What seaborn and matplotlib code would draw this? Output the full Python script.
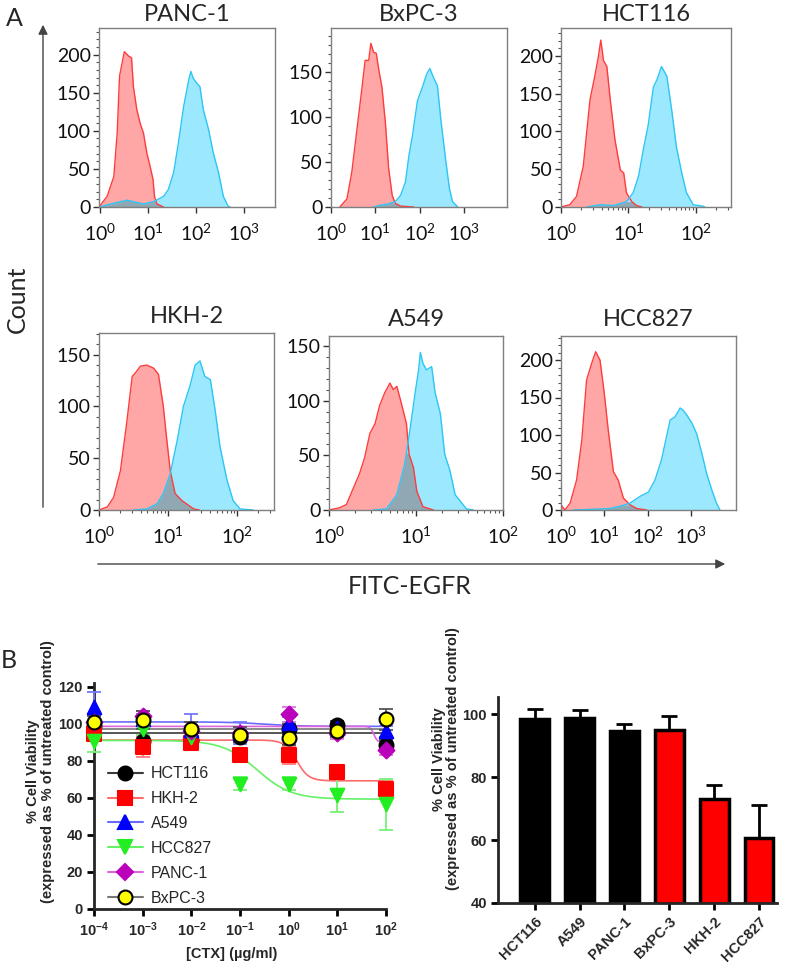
import numpy as np
import matplotlib
matplotlib.use('Agg')
import matplotlib.pyplot as plt
import seaborn as sns
from matplotlib.ticker import MultipleLocator, FixedLocator, LogFormatterSciNotation, NullFormatter, LogLocator
from matplotlib.lines import Line2D

sns.set_theme(style='ticks')
plt.rcParams['font.family'] = ['Liberation Sans', 'DejaVu Sans']
plt.rcParams['mathtext.fontset'] = 'dejavusans'

# ---------------- Panel A: flow histograms (log10 FITC, count) ----------------
panc1_red_x = [-0.03, 0.14, 0.28, 0.35, 0.40, 0.50, 0.59, 0.65, 0.69, 0.76, 0.83, 0.90, 0.97, 1.04, 1.10, 1.13, 1.18, 1.32]
panc1_red_y = [0, 14, 40, 97, 172, 204, 198, 196, 158, 128, 110, 97, 71, 53, 36, 14, 4, 0]
panc1_cyan_x = [-0.03, 0.28, 0.56, 0.69, 0.90, 1.11, 1.32, 1.42, 1.53, 1.63, 1.74, 1.84, 1.89, 1.94, 2.01, 2.08, 2.15, 2.26, 2.36, 2.47, 2.57, 2.67, 2.71]
panc1_cyan_y = [0, 5, 9, 7, 4, 7, 14, 23, 45, 84, 132, 165, 178, 169, 163, 158, 128, 102, 71, 45, 14, 1, 0]

bxpc3_red_x = [0.20, 0.36, 0.47, 0.58, 0.70, 0.77, 0.85, 0.90, 0.96, 1.02, 1.08, 1.15, 1.23, 1.30, 1.38, 1.45, 1.57, 1.87]
bxpc3_red_y = [0, 9, 39, 84, 133, 163, 163, 182, 172, 171, 152, 133, 92, 43, 13, 4, 1, 0]
bxpc3_cyan_x = [0.96, 1.11, 1.27, 1.45, 1.57, 1.68, 1.76, 1.83, 1.95, 2.06, 2.16, 2.23, 2.31, 2.40, 2.48, 2.59, 2.67, 2.74, 2.86]
bxpc3_cyan_y = [0, 2, 3, 6, 13, 28, 58, 77, 118, 133, 148, 154, 144, 135, 96, 51, 21, 6, 0]

hct116_red_x = [0, 0.13, 0.23, 0.33, 0.43, 0.50, 0.55, 0.59, 0.63, 0.68, 0.73, 0.80, 0.88, 0.93, 0.97, 1.05, 1.12, 1.20]
hct116_red_y = [0, 3, 14, 54, 142, 173, 197, 221, 194, 186, 142, 89, 49, 45, 19, 7, 2, 0]
hct116_cyan_x = [0.38, 0.58, 0.78, 0.97, 1.07, 1.15, 1.22, 1.29, 1.37, 1.42, 1.49, 1.57, 1.64, 1.71, 1.79, 1.86, 1.96, 2.11, 2.13]
hct116_cyan_y = [0, 3, 2, 7, 19, 41, 76, 107, 159, 168, 186, 173, 129, 80, 45, 19, 3, 1, 0]

hkh2_red_x = [0, 0.12, 0.21, 0.31, 0.40, 0.48, 0.52, 0.60, 0.69, 0.79, 0.86, 0.93, 0.98, 1.03, 1.10, 1.20, 1.37, 1.45]
hkh2_red_y = [0, 3, 12, 38, 84, 129, 132, 139, 140, 137, 131, 100, 68, 38, 16, 9, 1, 0]
hkh2_cyan_x = [0.50, 0.69, 0.84, 0.93, 1.03, 1.13, 1.22, 1.32, 1.39, 1.46, 1.53, 1.61, 1.68, 1.75, 1.85, 1.94, 2.04, 2.23]
hkh2_cyan_y = [0, 1, 6, 16, 35, 67, 100, 121, 140, 144, 129, 126, 96, 61, 29, 9, 1, 0]

a549_red_x = [0, 0.12, 0.20, 0.28, 0.35, 0.41, 0.47, 0.53, 0.58, 0.64, 0.70, 0.74, 0.78, 0.83, 0.89, 0.92, 0.97, 1.01, 1.08, 1.20]
a549_red_y = [0, 2, 5, 20, 33, 48, 70, 79, 95, 107, 116, 110, 113, 98, 79, 51, 39, 17, 3, 0]
a549_cyan_x = [0.51, 0.66, 0.78, 0.87, 0.93, 0.99, 1.03, 1.05, 1.08, 1.12, 1.18, 1.22, 1.28, 1.33, 1.39, 1.45, 1.51, 1.58, 1.66]
a549_cyan_y = [0, 1, 14, 42, 73, 107, 128, 144, 134, 128, 131, 107, 88, 51, 36, 14, 8, 1, 0]

hcc827_red_x = [0, 0.09, 0.21, 0.36, 0.48, 0.59, 0.71, 0.80, 0.90, 0.99, 1.09, 1.21, 1.32, 1.44, 1.59, 1.75, 1.98]
hcc827_red_y = [7, 0, 9, 40, 93, 173, 196, 211, 200, 160, 107, 51, 40, 16, 7, 2, 0]
hcc827_cyan_x = [0.28, 0.75, 1.13, 1.36, 1.59, 1.82, 2.02, 2.17, 2.32, 2.52, 2.63, 2.75, 2.82, 2.90, 3.02, 3.13, 3.25, 3.36, 3.48, 3.59, 3.67]
hcc827_cyan_y = [0, 1, 2, 5, 9, 18, 24, 40, 67, 120, 124, 136, 133, 127, 116, 102, 76, 49, 27, 9, 0]

hist_titles = ['PANC-1', 'BxPC-3', 'HCT116', 'HKH-2', 'A549', 'HCC827']
hist_ymax = [235, 199, 237, 171, 159, 232]
hist_xlim = [(-0.03, 3.65), (0, 3.97), (0, 2.52), (0, 2.53), (0, 2.0), (0, 4.04)]
hist_decades = [[0, 1, 2, 3], [0, 1, 2, 3], [0, 1, 2], [0, 1, 2], [0, 1, 2], [0, 1, 2, 3]]

# ---------------- Panel B: dose response ----------------
conc = [1e-4, 1e-3, 1e-2, 1e-1, 1, 10, 100]
dr_lines = ['HCT116', 'HKH-2', 'A549', 'HCC827', 'PANC-1', 'BxPC-3']
hct116_mean = [98.7, 90.6, 91.5, 92.6, 97.2, 99.1, 88.8]
hct116_err = [2, 2.5, 2, 2, 2.5, 2.5, 2.5]
hkh2_mean = [94.5, 87.5, 89.7, 83.4, 82.9, 73.9, 64.6]
hkh2_err = [3, 5.5, 4, 3, 4.5, 3.5, 4.5]
a549_mean = [109.3, 102.3, 96.5, 95, 100.5, 97.5, 95.9]
a549_err = [8, 3, 9, 6, 3, 3, 3]
hcc827_mean = [90.5, 97, 93, 67.5, 67.5, 61.5, 56.5]
hcc827_err = [5.5, 3, 3, 3.5, 3.5, 9.2, 13.7]
panc1_mean = [101, 104, 96, 95, 105, 94.8, 86.1]
panc1_err = [3, 3, 3, 3, 4, 3, 3]
bxpc3_mean = [101.2, 102, 97, 94, 92.4, 96, 102.3]
bxpc3_err = [3, 5, 4, 4, 4, 3, 5.5]
# fitted 4PL parameters: top, bottom, logEC50, hill
fit_top = [95.1, 91.2, 101.0, 91.0, 98.6, 97.3]
fit_bottom = [95.1, 69.2, 98.6, 59.3, 90.0, 97.3]
fit_logec50 = [0, 0.16, -0.5, -0.65, 1.75, 0]
fit_hill = [1, 3.5, 1.2, 1.23, 12, 1]

# ---------------- Panel B: bar chart ----------------
bar_lines = ['HCT116', 'A549', 'PANC-1', 'BxPC-3', 'HKH-2', 'HCC827']
bar_mean = [98.6, 98.9, 94.7, 94.9, 73.2, 60.8]
bar_err = [3.2, 2.4, 2.3, 4.5, 4.3, 10.3]

fig = plt.figure(figsize=(8, 9.66), dpi=100)
W, H = 800, 966

def box(x0, y0, x1, y1):
    return [x0 / W, 1 - y1 / H, (x1 - x0) / W, (y1 - y0) / H]

hist_boxes = [box(99, 28, 275, 207), box(331, 28, 507, 207), box(561, 28, 731, 207),
              box(99, 333, 274, 510), box(329, 336, 503, 510), box(561, 336, 736, 510)]
hist_data = [(panc1_red_x, panc1_red_y, panc1_cyan_x, panc1_cyan_y),
             (bxpc3_red_x, bxpc3_red_y, bxpc3_cyan_x, bxpc3_cyan_y),
             (hct116_red_x, hct116_red_y, hct116_cyan_x, hct116_cyan_y),
             (hkh2_red_x, hkh2_red_y, hkh2_cyan_x, hkh2_cyan_y),
             (a549_red_x, a549_red_y, a549_cyan_x, a549_cyan_y),
             (hcc827_red_x, hcc827_red_y, hcc827_cyan_x, hcc827_cyan_y)]

RED_FILL, RED_LINE = '#FFA6A6', '#FF3C3C'
CYAN_FILL, CYAN_LINE = '#9BE8FF', '#2CC6F5'
OVER_FILL = '#90A7B4'

for i in range(6):
    ax = fig.add_axes(hist_boxes[i])
    rx, ry, cx, cy = [np.asarray(a, dtype=float) for a in hist_data[i]]
    ax.fill_between(10 ** rx, ry, color=RED_FILL, lw=0)
    ax.fill_between(10 ** cx, cy, color=CYAN_FILL, lw=0)
    # shaded overlap of the two populations
    grid = np.union1d(rx, cx)
    over = np.minimum(np.interp(grid, rx, ry, left=0, right=0),
                      np.interp(grid, cx, cy, left=0, right=0))
    ax.fill_between(10 ** grid, over, color=OVER_FILL, lw=0)
    sns.lineplot(x=10 ** rx, y=ry, ax=ax, color=RED_LINE, lw=1, sort=False, estimator=None)
    sns.lineplot(x=10 ** cx, y=cy, ax=ax, color=CYAN_LINE, lw=1, sort=False, estimator=None)
    ax.set_xscale('log')
    lo, hi = hist_xlim[i]
    ax.set_xlim(10 ** lo, 10 ** hi)
    ax.set_ylim(0, hist_ymax[i])
    ax.xaxis.set_major_locator(FixedLocator([10.0 ** d for d in hist_decades[i]]))
    ax.xaxis.set_major_formatter(LogFormatterSciNotation())
    ax.xaxis.set_minor_locator(LogLocator(base=10, subs=np.arange(2, 10)))
    ax.xaxis.set_minor_formatter(NullFormatter())
    ax.yaxis.set_major_locator(MultipleLocator(50))
    ax.yaxis.set_minor_locator(MultipleLocator(10))
    ax.tick_params(which='major', length=4, width=1, color='#333333', labelsize=14,
                   labelfontfamily='Lato', labelcolor='#111111')
    ax.tick_params(axis='x', which='major', pad=7)
    ax.tick_params(axis='y', which='major', pad=2)
    ax.tick_params(which='minor', length=2, width=0.8, color='#555555')
    for s in ax.spines.values():
        s.set_color('#7F7F7F')
        s.set_linewidth(1)
    ax.set_xlabel('')
    ax.set_ylabel('')
    ax.set_title(hist_titles[i], fontsize=17, family='Lato', pad=5 if i < 3 else 7)

fig.text(14 / W, 1 - 18 / H, 'A', fontsize=18, family='Lato', ha='center', va='center')
fig.text(17 / W, 1 - 299 / H, 'Count', fontsize=18, family='Lato', rotation=90, ha='center', va='center')
fig.text(410 / W, 1 - 586 / H, 'FITC-EGFR', fontsize=18, family='Lato', ha='center', va='center')
fig.add_artist(matplotlib.patches.FancyArrowPatch((43 / W, 1 - 510 / H), (43 / W, 1 - 22 / H),
               transform=fig.transFigure, arrowstyle='-|>', mutation_scale=14, lw=1, color='#444444'))
fig.add_artist(matplotlib.patches.FancyArrowPatch((95 / W, 1 - 564 / H), (728 / W, 1 - 564 / H),
               transform=fig.transFigure, arrowstyle='-|>', mutation_scale=14, lw=1, color='#444444'))

# ---------------- dose response axes ----------------
fig.text(9 / W, 1 - 660 / H, 'B', fontsize=18, family='Lato', ha='center', va='center')
ax = fig.add_axes(box(94, 683, 386, 909))
dr_means = [hct116_mean, hkh2_mean, a549_mean, hcc827_mean, panc1_mean, bxpc3_mean]
dr_errs = [hct116_err, hkh2_err, a549_err, hcc827_err, panc1_err, bxpc3_err]
dr_face = ['#000000', '#FF0000', '#0000FF', '#22EE22', '#BB00BB', '#FFFF00']
dr_edge = ['#000000', '#FF0000', '#0000FF', '#22EE22', '#BB00BB', '#000000']
dr_marker = ['o', 's', '^', 'v', 'D', 'o']
dr_msize = [100, 95, 95, 95, 65, 100]
dr_line = ['#3A3A3A', '#FF6A6A', '#6A6AFF', '#66F066', '#DD66DD', '#777777']
dr_ecol = ['#555555', '#FF7777', '#7777FF', '#77F077', '#DD77DD', '#555555']

logx = np.linspace(-4, 2, 400)
for k in range(6):
    fit = fit_bottom[k] + (fit_top[k] - fit_bottom[k]) / (1 + 10 ** ((logx - fit_logec50[k]) * fit_hill[k]))
    sns.lineplot(x=10 ** logx, y=fit, ax=ax, color=dr_line[k], lw=1.2, estimator=None, zorder=2)
for k in range(6):
    ax.errorbar(conc, dr_means[k], yerr=dr_errs[k], fmt='none', ecolor=dr_ecol[k],
                elinewidth=1.3, capsize=5, capthick=1.3, zorder=3, clip_on=False)
for k in range(6):
    sns.scatterplot(x=conc, y=dr_means[k], ax=ax, marker=dr_marker[k], s=dr_msize[k],
                    color=dr_face[k], edgecolor=dr_edge[k], linewidth=1.5, zorder=4, clip_on=False)

ax.set_xscale('log')
ax.set_xlim(1e-4, 1e2)
ax.set_ylim(0, 122)
ax.set_yticks([0, 20, 40, 60, 80, 100, 120])
ax.set_yticklabels(['0', '20', '40', '60', '80', '100', '120'], fontweight='bold', fontsize=10.5)
ax.set_xticks(conc)
ax.set_xticklabels([r'$\mathdefault{10^{%d}}$' % d for d in range(-4, 3)], fontweight='bold', fontsize=10.5)
ax.xaxis.set_minor_locator(matplotlib.ticker.NullLocator())
sns.despine(ax=ax)
for s in ['left', 'bottom']:
    ax.spines[s].set_linewidth(2)
ax.tick_params(width=2, length=5, color='black', pad=3)
ax.set_xlabel('[CTX] (µg/ml)', fontweight='bold', fontsize=10.5)
ax.xaxis.set_label_coords(0.47, -0.17)
ax.set_ylabel('% Cell Viability\n(expressed as % of untreated control)', fontweight='bold', fontsize=10.5,
              linespacing=1.05)
ax.yaxis.set_label_coords(-0.135, 0.61)

handles = [Line2D([], [], color=dr_line[k], lw=1.5, marker=dr_marker[k], markersize=10 if dr_marker[k] != 'D' else 8,
                  markerfacecolor=dr_face[k], markeredgecolor=dr_edge[k], markeredgewidth=1.5)
           for k in range(6)]
ax.legend(handles, dr_lines, loc='upper left', bbox_to_anchor=(0.025, 0.66), frameon=False,
          fontsize=11.5, handlelength=2.2, handletextpad=0.5, labelspacing=0.62, borderaxespad=0)

# ---------------- bar chart ----------------
ax2 = fig.add_axes(box(498, 697, 777, 903))
bar_colors = ['#000000', '#000000', '#000000', '#FF0000', '#FF0000', '#FF0000']
sns.barplot(x=bar_lines, y=bar_mean, hue=bar_lines, palette=bar_colors, legend=False, width=0.64,
            edgecolor='black', linewidth=2.5, saturation=1, ax=ax2, zorder=2)
ax2.errorbar(range(6), bar_mean, yerr=[np.zeros(6), bar_err], fmt='none', ecolor='black',
             elinewidth=2, capsize=6, capthick=2, zorder=1)
ax2.set_ylim(40, 105.5)
ax2.set_xlim(-0.82, 5.4)
ax2.set_yticks([40, 60, 80, 100])
ax2.set_yticklabels(['40', '60', '80', '100'], fontweight='bold', fontsize=10.5)
ax2.set_xticks(range(6))
ax2.set_xticklabels(bar_lines, fontweight='bold', fontsize=10.5, rotation=45, ha='right',
                    rotation_mode='anchor')
sns.despine(ax=ax2)
for s in ['left', 'bottom']:
    ax2.spines[s].set_linewidth(2)
ax2.tick_params(width=2, length=5, color='black', pad=3)
ax2.set_ylabel('% Cell Viability\n(expressed as % of untreated control)', fontweight='bold', fontsize=10.5,
               linespacing=1.05)
ax2.yaxis.set_label_coords(-0.135, 0.70)

fig.savefig('out.png', dpi=100)
